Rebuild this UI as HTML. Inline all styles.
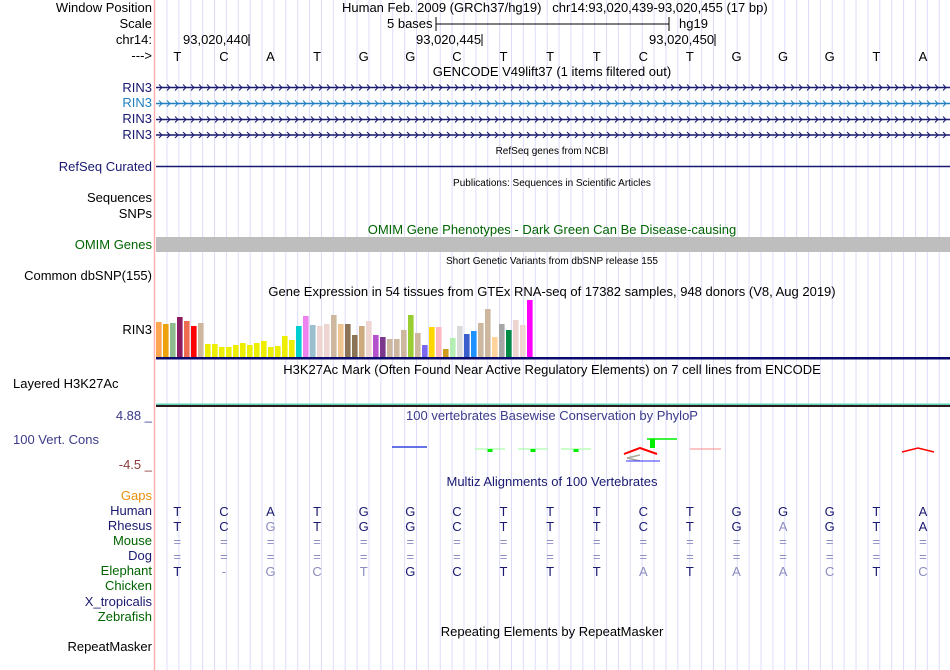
<!DOCTYPE html>
<html><head><meta charset="utf-8">
<style>
body{margin:0;background:#fff;width:950px;height:670px;overflow:hidden;position:relative;font-family:"Liberation Sans",sans-serif;font-size:13px;color:#000}
.t{position:absolute;white-space:nowrap;line-height:14px}
.l{right:798px;text-align:right}
.c{transform:translateX(-50%)}
svg{position:absolute;left:0;top:0}
</style></head><body>
<svg id="s" width="950" height="670"></svg>

<div class="t l" style="top:1px">Window Position</div>
<div class="t l" style="top:17px">Scale</div>
<div class="t l" style="top:33px">chr14:</div>
<div class="t l" style="top:49px">---&gt;</div>
<div class="t l" style="top:81px;color:#191970">RIN3</div>
<div class="t l" style="top:96px;color:#1f7fbf">RIN3</div>
<div class="t l" style="top:112px;color:#191970">RIN3</div>
<div class="t l" style="top:128px;color:#191970">RIN3</div>
<div class="t l" style="top:160px;color:#191970">RefSeq Curated</div>
<div class="t l" style="top:191px">Sequences</div>
<div class="t l" style="top:207px">SNPs</div>
<div class="t l" style="top:238px;color:#006400">OMIM Genes</div>
<div class="t l" style="top:269px">Common dbSNP(155)</div>
<div class="t l" style="top:323px">RIN3</div>
<div class="t" style="left:13px;top:377px">Layered H3K27Ac</div>
<div class="t l" style="top:409px;color:#3b3b8c">4.88 _</div>
<div class="t" style="left:13px;top:433px;color:#3b3b8c">100 Vert. Cons</div>
<div class="t l" style="top:458px;color:#8b3a3a">-4.5 _</div>
<div class="t l" style="top:489px;color:#e8900a">Gaps</div>
<div class="t l" style="top:504px;color:#191970">Human</div>
<div class="t l" style="top:519px;color:#191970">Rhesus</div>
<div class="t l" style="top:534px;color:#006400">Mouse</div>
<div class="t l" style="top:549px;color:#191970">Dog</div>
<div class="t l" style="top:564px;color:#006400">Elephant</div>
<div class="t l" style="top:579px;color:#006400">Chicken</div>
<div class="t l" style="top:595px;color:#191970">X_tropicalis</div>
<div class="t l" style="top:610px;color:#006400">Zebrafish</div>
<div class="t l" style="top:640px">RepeatMasker</div>

<div class="t" style="left:342px;top:1px">Human Feb. 2009 (GRCh37/hg19)&nbsp;&nbsp; chr14:93,020,439-93,020,455 (17 bp)</div>
<div class="t" style="left:387px;top:17px">5 bases</div>
<div class="t" style="left:679px;top:17px">hg19</div>
<div class="t" style="left:183px;top:33px">93,020,440</div>
<div class="t" style="left:416px;top:33px">93,020,445</div>
<div class="t" style="left:649px;top:33px">93,020,450</div>
<div class="t c" style="left:552px;top:65px">GENCODE V49lift37 (1 items filtered out)</div>
<div class="t c" style="left:552px;top:145px;font-size:10px">RefSeq genes from NCBI</div>
<div class="t c" style="left:552px;top:177px;font-size:10px">Publications: Sequences in Scientific Articles</div>
<div class="t c" style="left:552px;top:223px;color:#006400">OMIM Gene Phenotypes - Dark Green Can Be Disease-causing</div>
<div class="t c" style="left:552px;top:255px;font-size:10px">Short Genetic Variants from dbSNP release 155</div>
<div class="t c" style="left:552px;top:285px">Gene Expression in 54 tissues from GTEx RNA-seq of 17382 samples, 948 donors (V8, Aug 2019)</div>
<div class="t c" style="left:552px;top:363px">H3K27Ac Mark (Often Found Near Active Regulatory Elements) on 7 cell lines from ENCODE</div>
<div class="t c" style="left:552px;top:409px;color:#3b3b8c">100 vertebrates Basewise Conservation by PhyloP</div>
<div class="t c" style="left:552px;top:475px;color:#191970">Multiz Alignments of 100 Vertebrates</div>
<div class="t c" style="left:552px;top:625px">Repeating Elements by RepeatMasker</div>

<script>
const bases=["T","C","A","T","G","G","C","T","T","T","C","T","G","G","G","T","A"];
const rhesus=["T","C","G","T","G","G","C","T","T","T","C","T","G","A","G","T","A"];
const elephant=["T","-","G","C","T","G","C","T","T","T","A","T","A","A","C","T","C"];
const gtexValues=[35,33,34,40,36,31,34,13,13,10,10,12,14,12,14,16,10,11,21,17,31,41,32,31,33,42,33,33,22,31,36,22,20,18,18,27,42,24,12,30,30,8,19,31,23,26,34,48,20,33,27,37,32,57];
const gtexColors=["#FFA54F","#EEA20E","#8FBC8F","#8B1C62","#EE6A50","#FF0000","#CDB79E","#EEEE00","#EEEE00","#EEEE00","#EEEE00","#EEEE00","#EEEE00","#EEEE00","#EEEE00","#EEEE00","#EEEE00","#EEEE00","#EEEE00","#EEEE00","#00CED1","#EE82EE","#9AC0CD","#EED5D2","#EED5D2","#CDB79E","#EEC591","#8B7355","#8B7355","#CDAA7D","#EED5D2","#B452CD","#7A378B","#CDB79E","#CDB79E","#CDB79E","#9ACD32","#CDB79E","#7B68EE","#FFD700","#FFB6C1","#CD9B1D","#B4EEB4","#D9D9D9","#3A5FCD","#1E90FF","#CDB79E","#CDB79E","#FFD39B","#A6A6A6","#008B45","#EED5D2","#EED5D2","#FF00FF"];

const NS="http://www.w3.org/2000/svg";
const s=document.getElementById('s');
function mk(tag,a,p){const e=document.createElementNS(NS,tag);for(const k in a)e.setAttribute(k,a[k]);(p||s).appendChild(e);return e;}
const X0=154,BW=46.6;
const bx=i=>X0+BW*(i+0.5);
for(let x=167;x<950;x+=11.88){const g=mk('line',{x1:x,x2:x,y1:0,y2:670,stroke:'#dcdcfa','stroke-width':1});

}
const bd=mk('line',{x1:154.5,x2:154.5,y1:0,y2:670,stroke:'#ffb0b0','stroke-width':1.5});


mk('line',{x1:436,x2:669,y1:24,y2:24,stroke:'#000'});
mk('line',{x1:436,x2:436,y1:17,y2:31,stroke:'#000'});
mk('line',{x1:669,x2:669,y1:17,y2:31,stroke:'#000'});
[249,482,715].forEach(x=>mk('line',{x1:x,x2:x,y1:34,y2:46,stroke:'#000'}));
bases.forEach((b,i)=>{const t=mk('text',{x:bx(i),y:61,'text-anchor':'middle','font-size':13,'font-family':'Liberation Sans'});t.textContent=b;

});
[[87.5,'#191970'],[103.5,'#1f7fbf'],[119.5,'#191970'],[135,'#191970']].forEach(([y,c])=>{
 const g=mk('g',{});
 
 
 mk('line',{x1:156,x2:950,y1:y,y2:y,stroke:c,'stroke-width':1.5},g);
 let d='';for(let x=159;x<950;x+=8)d+=`M${x} ${y-3}L${x+3} ${y}L${x} ${y+3}`;
 mk('path',{d:d,stroke:c,fill:'none','stroke-width':1},g);
});
const rs=mk('line',{x1:156,x2:950,y1:166.5,y2:166.5,stroke:'#191970','stroke-width':1.5});


const om=mk('rect',{x:156,y:237,width:794,height:15,fill:'#bebebe'});


const base=357,scale=1.0;
gtexValues.forEach((v,i)=>{const r=mk('rect',{x:156+i*7,y:base-v*scale,width:5.6,height:v*scale,fill:gtexColors[i]});

});
mk('rect',{x:156,y:357,width:794,height:2.5,fill:'#0a0a6e'});
mk('rect',{x:156,y:403.5,width:794,height:1.5,fill:'#5fd3b8'});
mk('rect',{x:156,y:405,width:794,height:2,fill:'#2a1a1a'});
mk('line',{x1:392,x2:427,y1:447,y2:447,stroke:'#3344dd','stroke-width':1.5});
[[475,505,490],[518,548,533],[561,591,576]].forEach(([a,b,c])=>{mk('line',{x1:a,x2:b,y1:449,y2:449,stroke:'#9f9','stroke-width':1});mk('rect',{x:c-2.5,y:449,width:5,height:3,fill:'#0e0'});});
mk('path',{d:'M624 454L640 448L657 454',stroke:'#f00',fill:'none','stroke-width':2});
mk('path',{d:'M640 455L627 458L640 461',stroke:'#aa9',fill:'none','stroke-width':1.5});
mk('line',{x1:626,x2:660,y1:461,y2:461,stroke:'#33f','stroke-width':1});
mk('line',{x1:647,x2:677,y1:439,y2:439,stroke:'#0e0','stroke-width':1.5});
mk('rect',{x:650,y:439,width:5,height:9,fill:'#0e0'});
mk('line',{x1:690,x2:721,y1:449,y2:449,stroke:'#f88','stroke-width':1});
mk('path',{d:'M902 452L918 448L934 452',stroke:'#f00',fill:'none','stroke-width':1.5});
function row(arr,y,ref){arr.forEach((b,i)=>{const m=!ref||b===ref[i];
 const t=mk('text',{x:bx(i),y:y,'text-anchor':'middle','font-size':13,'font-family':'Liberation Sans',fill:m?'#191970':'#8c8cc0'});t.textContent=b;
 
 });}
row(bases,516);row(rhesus,531,bases);
row(bases.map(()=>'='),546,bases.map(()=>'x'));row(bases.map(()=>'='),561,bases.map(()=>'x'));
row(elephant,576,bases);
</script>
</body></html>
